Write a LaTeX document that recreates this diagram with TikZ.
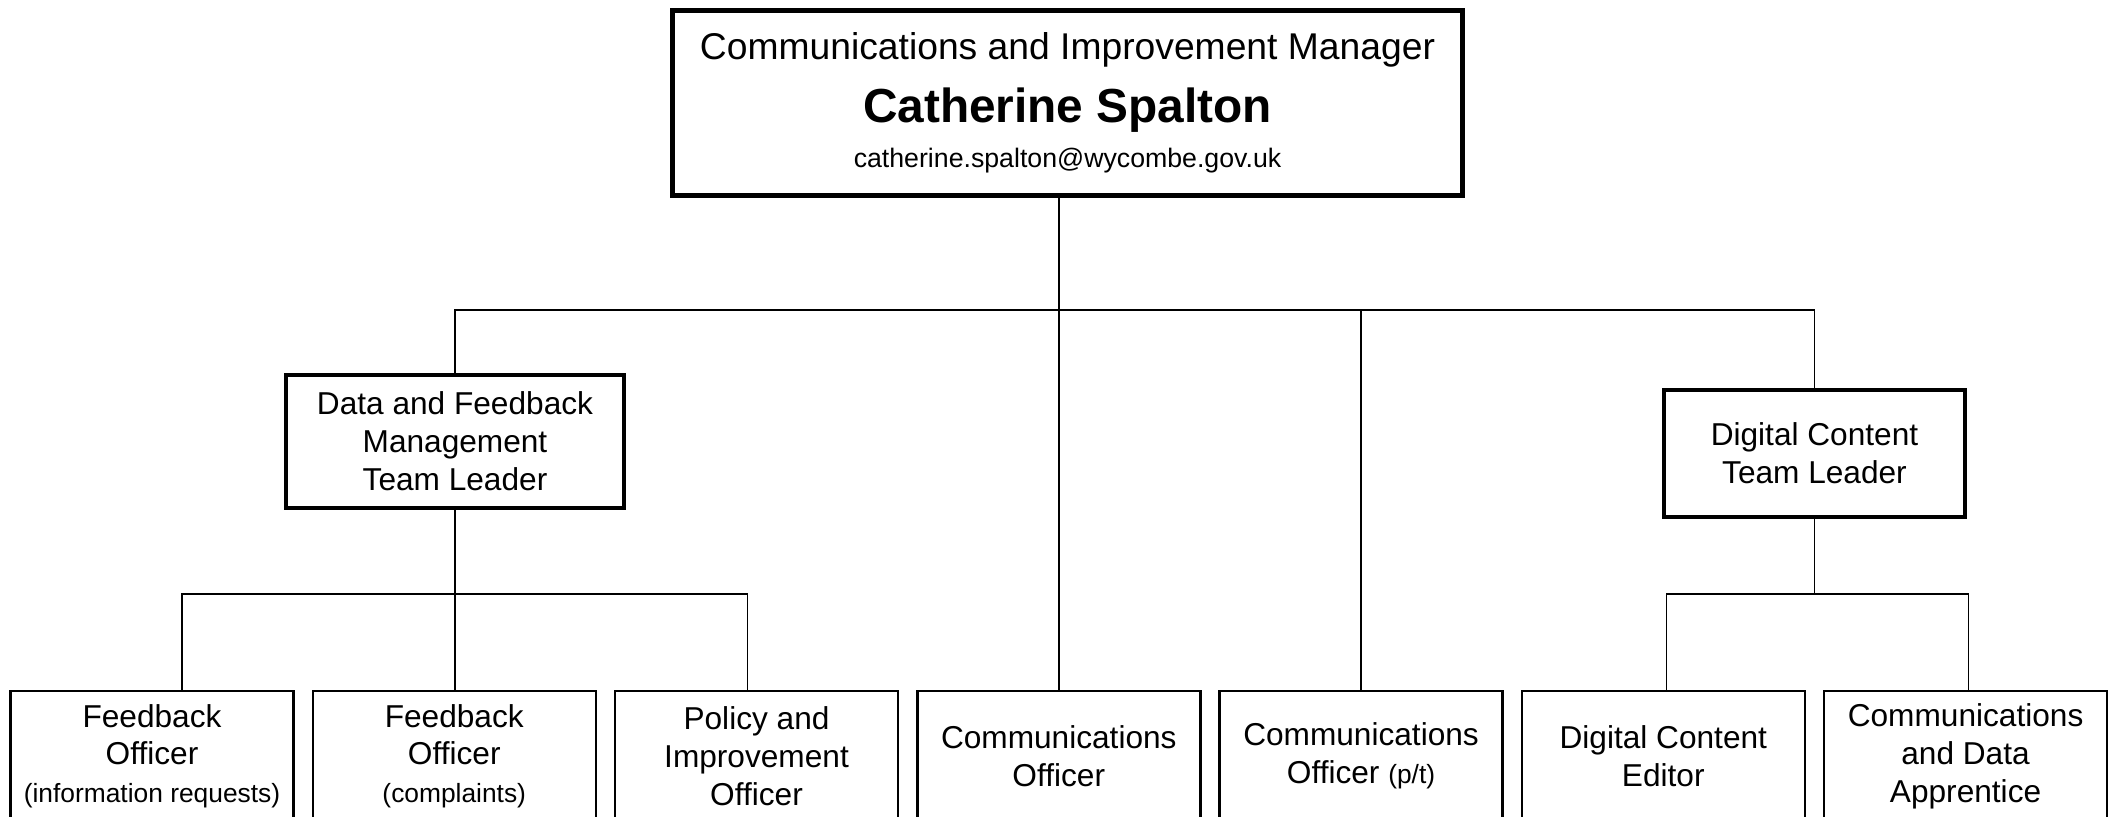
\documentclass[tikz,border=0pt]{standalone}
\usepackage{fontspec}
\setmainfont{Liberation Sans}
\usetikzlibrary{positioning}
\tikzset{
    %Define style for the head box
    headbox/.style={
           rectangle,
           draw=black, line width=1.5pt,
           minimum width=7.9cm,
           minimum height=1.85cm,
           inner sep=0pt,
           align=center},
    %Define style for team leader boxes
    leadbox/.style={
           rectangle,
           draw=black, line width=1.1pt,
           inner sep=0pt,
           align=center,
           font=\fontsize{9}{10.8}\selectfont},
    %Define style for post boxes
    postbox/.style={
           rectangle,
           draw=black, line width=0.7pt,
           minimum width=2.83cm,
           minimum height=1.3cm,
           inner sep=0pt,
           align=center,
           font=\fontsize{9}{10.8}\selectfont},
    % Define connector style
    link/.style={
           line width=0.45pt}
}
\newcommand{\smalltxt}[1]{{\fontsize{7.5}{9}\selectfont #1}}

\begin{document}
\begin{tikzpicture}[link,node distance=0.168cm]
  \useasboundingbox (0,0) rectangle (21.15,-8.16);
  \node[headbox] (head) at (10.675,-1.03)
      {{\fontsize{10.6}{12.7}\selectfont Communications and Improvement Manager}\\[5pt]
       {\fontsize{13.6}{16}\selectfont\bfseries Catherine Spalton}\\[0.8pt]
       {\fontsize{7.6}{9.1}\selectfont catherine.spalton@wycombe.gov.uk}};
  \node[leadbox, minimum width=3.38cm, minimum height=1.33cm] (dfm) at (4.55,-4.415)
      {Data and Feedback\\Management\\Team Leader};
  \node[leadbox, minimum width=3.01cm, minimum height=1.27cm] (dct) at (18.145,-4.535)
      {Digital Content\\Team Leader};
  % bottom row of posts
  \node[postbox, anchor=north] (fo1) at (1.52,-6.90)
      {Feedback\\Officer\\\smalltxt{(information requests)}};
  \node[postbox] (fo2) [right=of fo1] {Feedback\\Officer\\\smalltxt{(complaints)}};
  \node[postbox] (pio) [right=of fo2] {Policy and\\Improvement\\Officer};
  \node[postbox] (co1) [right=of pio] {Communications\\Officer};
  \node[postbox] (co2) [right=of co1] {Communications\\Officer \smalltxt{(p/t)}};
  \node[postbox] (dce) [right=of co2] {Digital Content\\Editor};
  \node[postbox] (cda) [right=of dce] {Communications\\and Data\\Apprentice};
  \coordinate (bus1) at (0,-3.10);
  \coordinate (bus2) at (0,-5.94);
  \draw
      (head.south -| co1) -- (co1.north)
      (dfm.north) |- (bus1 -| dct) -- (dct.north)
      (co2.north) -- (co2.north |- bus1);
  \draw
      (dfm.south) -- (dfm.south |- fo2.north)
      ([xshift=0.3cm]fo1.north) |- (bus2 -| dfm) -| ([xshift=-0.09cm]pio.north)
      (dct.south) -- (dct.south |- bus2)
      ([xshift=0.03cm]dce.north) |- (bus2 -| dct) -| ([xshift=0.03cm]cda.north);
\end{tikzpicture}
\end{document}
